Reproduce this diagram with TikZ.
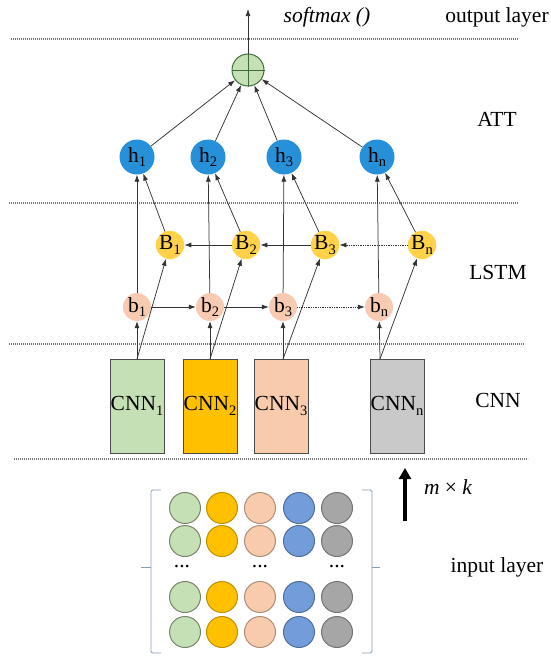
\documentclass[tikz,border=0pt]{standalone}
\usepackage{fontspec}
\setmainfont{Liberation Serif}
\usetikzlibrary{arrows.meta,calc}
\definecolor{hblue}{HTML}{2690D8}
\definecolor{byellow}{HTML}{FFD24A}
\definecolor{bpeach}{HTML}{F8CAB2}
\definecolor{cgreen}{HTML}{C5E0B4}
\definecolor{corange}{HTML}{FFC000}
\definecolor{cpeach}{HTML}{F8CBAD}
\definecolor{cgray}{HTML}{C9C9C9}
\definecolor{iblue}{HTML}{729DDA}
\definecolor{igray}{HTML}{A6A6A6}
\definecolor{plusdark}{HTML}{3E6B3A}
\definecolor{brk}{HTML}{8A9DB8}
\newcommand\mysub[1]{\raisebox{-0.45ex}{\fontsize{14.5}{14.5}\selectfont #1}}
\begin{document}
\begin{tikzpicture}[x=1pt,y=-1pt,
  every node/.style={font=\fontsize{21.5}{25}\selectfont},
  arr/.style={draw=black!80, line width=0.75pt, -{Latex[length=7pt,width=5pt]}},
  dotarr/.style={arr, densely dotted},
  sep/.style={draw=black!55, line width=1.3pt, dash pattern=on 1.2pt off 0.8pt},
  hnode/.style={circle, fill=hblue, minimum size=35, inner sep=0},
  Bnode/.style={circle, fill=byellow, minimum size=28, inner sep=0},
  bnode/.style={circle, fill=bpeach, minimum size=28, inner sep=0},
  cnnbox/.style={draw=black!70, line width=0.9pt, minimum width=54, minimum height=94, inner sep=0},
  inc/.style={circle, minimum size=31, inner sep=0, line width=1pt},
  brack/.style={draw=brk, line width=0.9pt, rounded corners=1.5pt}
]
\useasboundingbox (0,0) rectangle (551,656);

% separators
\draw[sep] (11,39) -- (518,39);
\draw[sep] (9,203) -- (518,203);
\draw[sep] (9,344) -- (525,344);
\draw[sep] (14,459) -- (528,459);

% layer labels
\node (lout) at (497,17) {output layer};
\node (latt) at (497,119) {ATT};
\node (llstm) at (498,272) {LSTM};
\node (lcnn) at (498,400) {CNN};
\node (lin) at (497,567) {input layer};
\node (lsoft) at (327,17) {\itshape softmax ()};

% attention sum
\node[circle, minimum size=32, inner sep=0, fill=cgreen, draw=plusdark, line width=1pt] (plus) at (248,70) {};
\draw[plusdark, line width=1pt] (plus.north) -- (plus.south) (plus.west) -- (plus.east);
\coordinate (top) at (248,9);
\draw[arr] (plus.north) -- (top);

% h nodes
\node[hnode] (h1) at (137,157) {h\mysub{1}};
\node[hnode] (h2) at (208,157) {h\mysub{2}};
\node[hnode] (h3) at (284,157) {h\mysub{3}};
\node[hnode] (hn) at (377,157) {h\mysub{n}};

% B nodes
\node[Bnode] (B1) at (170,245) {B\mysub{1}};
\node[Bnode] (B2) at (246,245) {B\mysub{2}};
\node[Bnode] (B3) at (325,245) {B\mysub{3}};
\node[Bnode] (Bn) at (422,245) {B\mysub{n}};

% b nodes
\node[bnode] (b1) at (137,307) {b\mysub{1}};
\node[bnode] (b2) at (210,307) {b\mysub{2}};
\node[bnode] (b3) at (283,307) {b\mysub{3}};
\node[bnode] (bn) at (379,307) {b\mysub{n}};

% CNN boxes
\node[cnnbox, fill=cgreen] (c1) at (137,406) {CNN\mysub{1}};
\node[cnnbox, fill=corange] (c2) at (210,406) {CNN\mysub{2}};
\node[cnnbox, fill=cpeach] (c3) at (281,406) {CNN\mysub{3}};
\node[cnnbox, fill=cgray] (cn) at (397,406) {CNN\mysub{n}};
\coordinate (t1) at (137,359);
\coordinate (t2) at (210,359);
\coordinate (t3) at (283,359);
\coordinate (tn) at (380,359);

% h -> plus
\draw[arr] (h1) -- (plus);
\draw[arr] (h2) -- (plus);
\draw[arr] (h3) -- (plus);
\draw[arr] (hn) -- (plus);

% b -> h (vertical), B -> h (diagonal)
\draw[arr] (b1) -- (h1);
\draw[arr] (b2) -- (h2);
\draw[arr] (b3) -- (h3);
\draw[arr] (bn) -- (hn);
\draw[arr] (B1) -- (h1);
\draw[arr] (B2) -- (h2);
\draw[arr] (B3) -- (h3);
\draw[arr] (Bn) -- (hn);

% forward and backward chains
\draw[arr] (b1) -- (b2);
\draw[arr] (b2) -- (b3);
\draw[dotarr] (b3) -- (bn);
\draw[arr] (B2) -- (B1);
\draw[arr] (B3) -- (B2);
\draw[dotarr] (Bn) -- (B3);

% CNN -> b, CNN -> B
\draw[arr] (t1) -- (b1);
\draw[arr] (t2) -- (b2);
\draw[arr] (t3) -- (b3);
\draw[arr] (tn) -- (bn);
\draw[arr] (t1) -- (B1);
\draw[arr] (t2) -- (B2);
\draw[arr] (t3) -- (B3);
\draw[arr] (tn) -- (Bn);

% input dimension arrow
\coordinate (mkA) at (405,521);
\coordinate (mkB) at (405,468);
\draw[line width=4pt, -{Triangle[length=11pt,width=12pt]}] (mkA) -- (mkB);
\node (mk) at (448,487) {\itshape m\/ \upshape × \itshape k};

% input matrix
\foreach \c/\x/\fc/\dc in {1/185/cgreen/cgreen!60!black, 2/222/corange/corange!75!black, 3/260/cpeach/cpeach!70!black, 4/299/iblue/iblue!70!black, 5/337/igray/igray!70!black}{
  \foreach \r/\y in {1/508, 2/541, 3/597, 4/632}{
    \node[inc, fill=\fc, draw=\dc] (in\r\c) at (\x,\y) {};
  }
}
\node (d1) at (182,567) {...};
\node (d2) at (260,567) {...};
\node (d3) at (337,567) {...};

% brackets
\draw[brack] (161,490) -- (151,490) -- (151,653) -- (161,653);
\draw[brack] (151,567) -- (141,567);
\draw[brack] (362,490) -- (372,490) -- (372,653) -- (362,653);
\draw[brack] (372,567) -- (380,567);
\end{tikzpicture}
\end{document}
